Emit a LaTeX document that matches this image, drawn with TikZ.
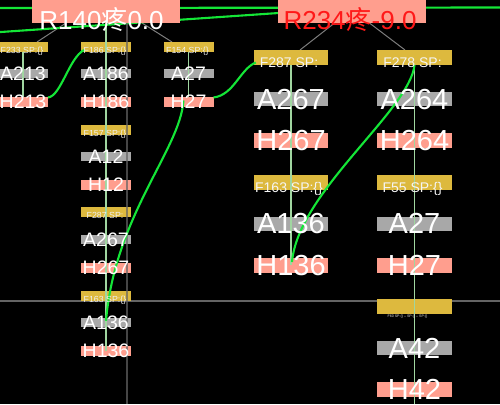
\documentclass[tikz,border=0pt]{standalone}
\usepackage{fontspec}
\setmainfont{Liberation Sans}
\newfontfamily\cjk{Noto Sans CJK SC}
\usetikzlibrary{calc}
\pgfdeclarelayer{bottom}
\pgfdeclarelayer{behind}
\pgfsetlayers{bottom,behind,main}
\definecolor{salmon}{RGB}{255,158,142}
\definecolor{ybox}{RGB}{221,185,62}
\definecolor{gbox}{RGB}{168,168,168}
\definecolor{brgreen}{RGB}{20,230,55}
\definecolor{pgreen}{RGB}{160,214,160}
\definecolor{gline}{RGB}{125,125,125}
\definecolor{rtext}{RGB}{255,25,25}
\tikzset{
  bx/.style={inner sep=0pt, outer sep=0pt, draw=none},
  rbox/.style={bx, fill=salmon, minimum width=148, minimum height=23},
  fS/.style={bx, fill=ybox, minimum width=50, minimum height=10},
  aS/.style={bx, fill=gbox, minimum width=50, minimum height=9},
  hS/.style={bx, fill=salmon, minimum width=50, minimum height=10},
  fB/.style={bx, fill=ybox, minimum width=74.5, minimum height=15},
  aB/.style={bx, fill=gbox, minimum width=74.5, minimum height=14},
  hB/.style={bx, fill=salmon, minimum width=74.5, minimum height=15},
  tx/.style={inner sep=0pt, outer sep=0pt, anchor=base, text=white},
  tS/.style={tx, font=\fontsize{19.5}{20}\selectfont},
  tB/.style={tx, font=\fontsize{29}{30}\selectfont},
  tfS/.style={tx, text=white!88!gray, font=\fontsize{8.8}{9}\selectfont},
  tfB/.style={tx, text=white!92!gray, font=\fontsize{14}{15}\selectfont},
  tR/.style={tx, font=\fontsize{26}{27}\selectfont},
  grayln/.style={draw=gline, line width=1pt},
  gridln/.style={draw=gline!80!black, line width=1.4pt},
  pg/.style={draw=pgreen, line width=1.6pt},
  bg/.style={draw=brgreen, line width=2.1pt},
}
\begin{document}
\begin{tikzpicture}[x=1pt,y=-1pt]
\begin{pgfonlayer}{bottom}
\fill[black] (0,0) rectangle (500,404);
\end{pgfonlayer}
\useasboundingbox (0,0) rectangle (500,404);

% top-level boxes
\node[rbox] (r140) at (106,11.5) {};
\node[rbox] (r234) at (352,11.5) {};

% left group
\node[fS] (f233) at (23,47) {};
\node[aS] (a213) at (23,73.5) {};
\node[hS] (h213) at (23,101.5) {};
\node[fS] (f186) at (106,47) {};
\node[aS] (a186) at (106,73.5) {};
\node[hS] (h186) at (106,101.5) {};
\node[fS] (f157) at (106,129.8) {};
\node[aS] (a12) at (106,156.8) {};
\node[hS] (h12) at (106,184.8) {};
\node[fS] (f287a) at (106,212.3) {};
\node[aS] (a267a) at (106,239.5) {};
\node[hS] (h267a) at (106,267.6) {};
\node[fS] (f163a) at (106,296) {};
\node[aS] (a136a) at (106,322.8) {};
\node[hS] (h136a) at (106,350.6) {};
\node[fS] (f154) at (188.5,47) {};
\node[aS] (a27a) at (188.5,73.5) {};
\node[hS] (h27a) at (188.5,101.5) {};

% right group
\node[fB] (f287) at (291,57.5) {};
\node[aB] (a267) at (291,99) {};
\node[hB] (h267) at (291,140.5) {};
\node[fB] (f163) at (291,182) {};
\node[aB] (a136) at (291,223.5) {};
\node[hB] (h136) at (291,265) {};
\node[fB] (f278) at (414.5,57.5) {};
\node[aB] (a264) at (414.5,99) {};
\node[hB] (h264) at (414.5,140.5) {};
\node[fB] (f55) at (414.5,182) {};
\node[aB] (a27) at (414.5,223.5) {};
\node[hB] (h27) at (414.5,265) {};
\node[fB] (f60) at (414.5,306.5) {};
\node[aB] (a42) at (414.5,348) {};
\node[hB] (h42) at (414.5,389.5) {};

% free ends
\coordinate (gxl) at (0,301);
\coordinate (gxr) at (500,301);
\coordinate (gvt) at (127,23);
\coordinate (gvb) at (127,404);
\coordinate (ga1) at (-2,8);
\coordinate (ga2) at (502,7.5);
\coordinate (gb1) at (-2,32.2);
\coordinate (c5b) at (414.5,404);

% lines behind boxes
\begin{pgfonlayer}{behind}
\draw[gridln] (gxl) -- (gxr);
\draw[grayln] ($(r140.south)+(-40,0)$) -- ($(f233.north)+(14,0)$);
\draw[grayln] ($(r140.south)+(36,0)$) -- ($(f154.north)+(-16.5,0)$);
\draw[grayln] ($(r234.south)+(-17.4,0)$) -- ($(f287.north)+(9,0)$);
\draw[grayln] ($(r234.south)+(17.4,0)$) -- ($(f278.north)+(-9.5,0)$);
\draw[bg] (ga1) -- (ga2);
\draw[bg] (gb1) -- ($(r234.west)+(8,1)$);
\end{pgfonlayer}

% lines over boxes
\draw[gridln, draw opacity=0.7] (gvt) -- (gvb);
\draw[pg] (f233.south) -- (h213.north);
\draw[pg] (r140.south) -- (h136a.center);
\draw[pg] (f154.south) -- (h27a.north);
\draw[pg] (f287.south) -- (h136.center);
\draw[pg] (f278.south) -- (c5b);

\draw[bg] ($(h213.east)+(0,-4)$) .. controls (61,96) and (69,58) .. ($(f186.south west)+(3,-2)$);
\draw[bg] ($(h27a.east)+(0,-4)$) .. controls (234,95) and (240,69) .. ($(f287.west)+(2,5)$);
\draw[bg] ($(h27a.center)+(-5,-1)$) .. controls (180,150) and (115,215) .. ($(a136a.center)+(0,-2)$);
\draw[bg] (f278.south) .. controls (410,110) and (298,192) .. ($(h136.center)+(1,-3)$);

% texts
\node[tR] (r140t) at (101.5,30) {R140{\cjk 疼}0.0};
\node[tR, text=rtext] (r234t) at (350,30) {R234{\cjk 疼}-9.0};

\node[tfS] (f233t) at ($(f233.center)+(-1,6.5)$) {F233 SP:\{\}};
\node[tS] (a213t) at ($(a213.center)+(0,7)$) {A213};
\node[tS] (h213t) at ($(h213.center)+(0,7)$) {H213};
\node[tfS] (f186t) at ($(f186.center)+(-1,6.5)$) {F186 SP:\{\}};
\node[tS] (a186t) at ($(a186.center)+(0,7)$) {A186};
\node[tS] (h186t) at ($(h186.center)+(0,7)$) {H186};
\node[tfS] (f157t) at ($(f157.center)+(-1,6.5)$) {F157 SP:\{\}};
\node[tS] (a12t) at ($(a12.center)+(0,7)$) {A12};
\node[tS] (h12t) at ($(h12.center)+(0,7)$) {H12};
\node[tfS] (f287at) at ($(f287a.center)+(-1,6.5)$) {F287 SP:};
\node[tS] (a267at) at ($(a267a.center)+(0,7)$) {A267};
\node[tS] (h267at) at ($(h267a.center)+(0,7)$) {H267};
\node[tfS] (f163at) at ($(f163a.center)+(-1,6.5)$) {F163 SP:\{\}};
\node[tS] (a136at) at ($(a136a.center)+(0,7)$) {A136};
\node[tS] (h136at) at ($(h136a.center)+(0,7)$) {H136};
\node[tfS] (f154t) at ($(f154.center)+(-1,6.5)$) {F154 SP:\{\}};
\node[tS] (a27at) at ($(a27a.center)+(0,7)$) {A27};
\node[tS] (h27at) at ($(h27a.center)+(0,7)$) {H27};

\node[tfB] (f287t) at ($(f287.center)+(-2,10)$) {F287 SP:};
\node[tB] (a267t) at ($(a267.center)+(0,10.4)$) {A267};
\node[tB] (h267t) at ($(h267.center)+(0,10.4)$) {H267};
\node[tfB] (f163t) at ($(f163.center)+(-2,10)$) {F163 SP:\{\}};
\node[tB] (a136t) at ($(a136.center)+(0,10.4)$) {A136};
\node[tB] (h136t) at ($(h136.center)+(0,10.4)$) {H136};
\node[tfB] (f278t) at ($(f278.center)+(-2,10)$) {F278 SP:};
\node[tB] (a264t) at ($(a264.center)+(0,10.4)$) {A264};
\node[tB] (h264t) at ($(h264.center)+(0,10.4)$) {H264};
\node[tfB] (f55t) at ($(f55.center)+(-2,10)$) {F55 SP:\{\}};
\node[tB] (a27t) at ($(a27.center)+(0,10.4)$) {A27};
\node[tB] (h27t) at ($(h27.center)+(0,10.4)$) {H27};
\node[tx, text=white!80!gray, font=\fontsize{3.6}{4}\selectfont] (f60t) at ($(f60.center)+(-7,11)$) {F60 SP:\{\} -- SP:\{\} -- SP:\{\}};
\node[tB] (a42t) at ($(a42.center)+(0,10.4)$) {A42};
\node[tB] (h42t) at ($(h42.center)+(0,10)$) {H42};
\end{tikzpicture}
\end{document}
